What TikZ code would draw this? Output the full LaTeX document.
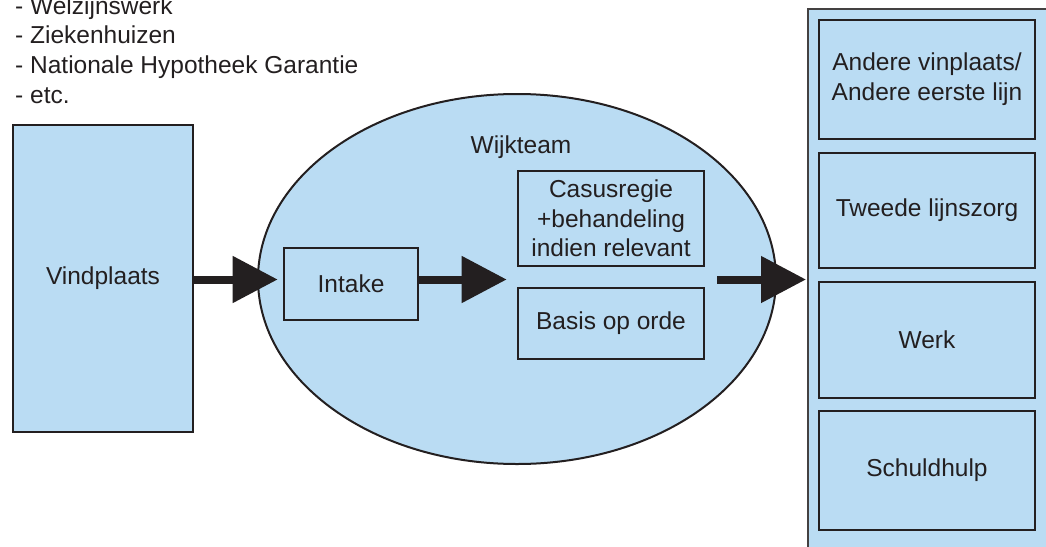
\documentclass[tikz,border=0pt]{standalone}
\usepackage{fontspec}
\setmainfont{Liberation Sans}
\usetikzlibrary{shapes.geometric,arrows.meta}
\definecolor{boxfill}{RGB}{186,220,243}
\definecolor{ink}{RGB}{35,31,32}
\tikzset{
  lbl/.style={font=\fontsize{24.5}{29.7}\selectfont, text=ink, align=center, inner sep=0pt},
  blockbox/.style={lbl, draw=ink, line width=2.6pt, fill=boxfill, rectangle},
  plainbox/.style={lbl, draw=ink, line width=2.6pt, rectangle},
  bigarrow/.style={draw=ink, line width=8pt, -{Triangle[length=45pt,width=45pt]}}
}
\begin{document}
\begin{tikzpicture}[x=1pt,y=-1pt]
\useasboundingbox (0,0) rectangle (1046,546);
\clip (0,0) rectangle (1046,546);
% list
\node[lbl, align=left, anchor=north west] (list) at (15,-3.8)
  {- Welzijnswerk\\- Ziekenhuizen\\- Nationale Hypotheek Garantie\\- etc.};
% vindplaats
\node[blockbox, minimum width=180pt, minimum height=307pt] (vind) at (103,278.5) {Vindplaats};
% wijkteam ellipse
\node[ellipse, draw=ink, line width=2pt, fill=boxfill, minimum width=518pt, minimum height=370pt, inner sep=0pt] (wijk) at (517,279) {};
\node[lbl, anchor=base] (wijklbl) at (521,153) {Wijkteam};
\node[plainbox, minimum width=134pt, minimum height=72pt] (intake) at (351,284) {Intake};
\node[plainbox, minimum width=186pt, minimum height=95pt] (casus) at (611,218.5) {Casusregie\\+behandeling\\indien relevant};
\node[plainbox, minimum width=186pt, minimum height=71pt] (basis) at (611,323.5) {Basis op orde};
% right column
\node[rectangle, draw=ink!85, line width=2pt, fill=boxfill, minimum width=260pt, minimum height=560pt, anchor=north west] (outer) at (807,8) {};
\node[plainbox, minimum width=216pt, minimum height=119pt] (r1) at (927,79.5) {Andere vinplaats/\\Andere eerste lijn};
\node[plainbox, minimum width=216pt, minimum height=115pt] (r2) at (927,210.5) {Tweede lijnszorg};
\node[plainbox, minimum width=216pt, minimum height=116pt] (r3) at (927,340) {Werk};
\node[plainbox, minimum width=216pt, minimum height=119pt] (r4) at (927,470.5) {Schuldhulp};
% arrows
\coordinate (a3start) at (717,279.5);
\draw[bigarrow, shorten >=5pt] (vind.east |- 0,279.5) -- (intake.west |- 0,279.5);
\draw[bigarrow, shorten >=10pt] (intake.east |- 0,279.5) -- (casus.west |- 0,279.5);
\draw[bigarrow, shorten >=1pt] (a3start) -- (outer.west |- a3start);
\end{tikzpicture}
\end{document}
